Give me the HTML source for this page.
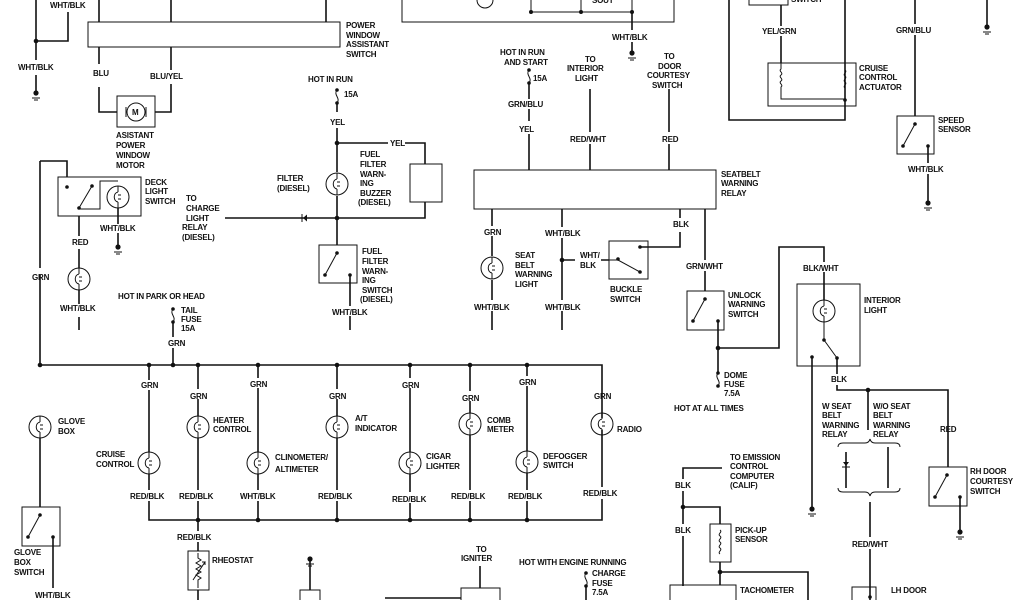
<!DOCTYPE html>
<html><head><meta charset="utf-8"><style>
body{margin:0;background:#fff}
svg{display:block}
text{font-family:"Liberation Sans",sans-serif;font-size:8px;font-weight:bold;fill:#111;letter-spacing:-0.2px}
.l{stroke:#111;stroke-width:1.6;fill:none}
.t{stroke:#111;stroke-width:1;fill:none}
.d{fill:#111}
</style></head><body>
<svg width="1024" height="600" viewBox="0 0 1024 600" xmlns="http://www.w3.org/2000/svg">
<defs>
<g id="lamp"><circle r="11" class="t" stroke-width="1.3"/><path d="M0,-11 V-5 M0,11 V5 M0,-5 C-5,-4 -5,4 0,5 M0,-2 H3 M0,2 H3" class="t"/></g>
<g id="gnd"><circle r="2.6" class="d"/><path d="M-4,5 H4 M-2,7 H2" class="t" stroke-width="0.7"/></g>
<g id="fuse"><circle cx="0" cy="0" r="1.8" class="d"/><path d="M0,0 C-4,5 4,8 0,13" class="t"/><circle cx="0" cy="13" r="1.8" class="d"/></g>
</defs>

<!-- top-left -->
<path class="l" d="M36,0 V60 M36,75 V93 M36,41 H68 V12"/>
<circle cx="36" cy="41" r="2.3" class="d"/>
<use href="#gnd" x="36" y="93"/>
<text x="50" y="8">WHT/BLK</text>
<text x="18" y="70">WHT/BLK</text>

<rect x="88" y="22" width="252" height="25" class="t" stroke-width="1.3"/>
<path class="l" d="M99,0 V22 M171,0 V22 M326,0 V22"/>
<text x="346" y="28">POWER</text><text x="346" y="38">WINDOW</text><text x="346" y="47">ASSISTANT</text><text x="346" y="57">SWITCH</text>
<path class="l" d="M99,47 V64 M99,87 V112 H117 M171,47 V70 M171,84 V112 H155"/>
<text x="93" y="76">BLU</text><text x="150" y="79">BLU/YEL</text>
<rect x="117" y="96" width="38" height="31" class="t" stroke-width="1.2"/>
<circle cx="136" cy="112" r="9" class="t"/><text x="132" y="115">M</text>
<path class="t" d="M126,107 V117 M146,107 V117"/>
<text x="116" y="138">ASISTANT</text><text x="116" y="148">POWER</text><text x="116" y="158">WINDOW</text><text x="116" y="168">MOTOR</text>

<!-- deck light -->
<path class="l" d="M40,275 V365 M40,161 H67 V177 M40,161 V268"/>
<text x="32" y="280">GRN</text>
<rect x="58" y="177" width="83" height="39" class="t" stroke-width="1.2"/>
<circle cx="67" cy="187" r="1.8" class="d"/><circle cx="79" cy="208" r="1.8" class="d"/><circle cx="92" cy="186" r="1.8" class="d"/>
<path class="t" d="M79,208 L92,186 M79,209 H100 V181 H118"/>
<use href="#lamp" x="118" y="197"/>
<text x="145" y="185">DECK</text><text x="145" y="194">LIGHT</text><text x="145" y="204">SWITCH</text>
<path class="l" d="M79,216 V236 M79,249 V268 M79,290 V304 M79,317 V330"/>
<text x="72" y="245">RED</text>
<use href="#lamp" x="79" y="279"/>
<text x="60" y="311">WHT/BLK</text>
<path class="l" d="M118,208 V224 M118,233 V246"/>
<use href="#gnd" x="118" y="247"/>
<text x="100" y="231">WHT/BLK</text>
<text x="186" y="201">TO</text><text x="186" y="211">CHARGE</text><text x="186" y="221">LIGHT</text><text x="182" y="230">RELAY</text><text x="182" y="240">(DIESEL)</text>

<!-- fuel filter -->
<path class="l" d="M225,218 H425 V202 M425,164 V143 H405 M388,143 H337 M337,128 V172 M337,196 V245"/>
<path class="d" d="M303,218 l4,-3.5 v7z"/><path class="t" d="M302,214 V222"/>
<circle cx="337" cy="218" r="2.3" class="d"/><circle cx="337" cy="143" r="2.3" class="d"/>
<text x="308" y="82">HOT IN RUN</text>
<use href="#fuse" x="337" y="90"/><path class="l" d="M337,103 V112"/>
<text x="344" y="97">15A</text><text x="330" y="125">YEL</text><text x="390" y="146">YEL</text>
<rect x="410" y="164" width="32" height="38" class="t" stroke-width="1.2"/>
<use href="#lamp" x="337" y="184"/>
<text x="277" y="181">FILTER</text><text x="277" y="191">(DIESEL)</text>
<text x="360" y="157">FUEL</text><text x="360" y="167">FILTER</text><text x="360" y="177">WARN-</text><text x="360" y="186">ING</text><text x="360" y="196">BUZZER</text><text x="358" y="205">(DIESEL)</text>
<rect x="319" y="245" width="38" height="38" class="t" stroke-width="1.2"/>
<circle cx="337" cy="253" r="1.8" class="d"/><circle cx="325" cy="275" r="1.8" class="d"/><circle cx="350" cy="275" r="1.8" class="d"/>
<path class="t" d="M337,253 L325,275"/>
<text x="362" y="254">FUEL</text><text x="362" y="264">FILTER</text><text x="362" y="274">WARN-</text><text x="362" y="283">ING</text><text x="362" y="293">SWITCH</text><text x="360" y="302">(DIESEL)</text>
<path class="l" d="M350,275 V306 M350,316 V330"/>
<text x="332" y="315">WHT/BLK</text>

<!-- top middle -->
<path class="t" stroke-width="1.3" d="M402,0 V22 H674 V0"/>
<path class="t" d="M531,0 V12 H632 V0 M581,0 V12"/>
<circle cx="531" cy="12" r="2" class="d"/><circle cx="581" cy="12" r="2" class="d"/><circle cx="632" cy="12" r="2" class="d"/>
<circle cx="485" cy="0" r="8" class="t"/>
<text x="592" y="3">SOUT</text>
<path class="l" d="M632,12 V30 M632,42 V52"/>
<use href="#gnd" x="632" y="53"/>
<text x="612" y="40">WHT/BLK</text>

<text x="500" y="55">HOT IN RUN</text><text x="504" y="65">AND START</text>
<use href="#fuse" x="529" y="70"/><text x="533" y="81">15A</text>
<path class="l" d="M529,83 V99 M529,109 V121 M529,134 V170"/>
<text x="508" y="107">GRN/BLU</text><text x="519" y="132">YEL</text>
<text x="585" y="62">TO</text><text x="567" y="71">INTERIOR</text><text x="575" y="81">LIGHT</text>
<path class="l" d="M590,89 V132 M590,144 V170"/>
<text x="570" y="142">RED/WHT</text>
<text x="664" y="59">TO</text><text x="658" y="69">DOOR</text><text x="647" y="78">COURTESY</text><text x="652" y="88">SWITCH</text>
<path class="l" d="M669,89 V132 M669,144 V170"/>
<text x="662" y="142">RED</text>
<rect x="474" y="170" width="242" height="39" class="t" stroke-width="1.3"/>
<text x="721" y="177">SEATBELT</text><text x="721" y="186">WARNING</text><text x="721" y="196">RELAY</text>

<path class="l" d="M492,209 V226 M492,236 V256 M492,280 V300 M492,311 V330"/>
<text x="484" y="235">GRN</text>
<use href="#lamp" x="492" y="268"/>
<text x="474" y="310">WHT/BLK</text>
<text x="515" y="258">SEAT</text><text x="515" y="268">BELT</text><text x="515" y="277">WARNING</text><text x="515" y="287">LIGHT</text>
<path class="l" d="M562,209 V227 M562,238 V300 M562,311 V330 M562,260 H575 M601,260 H609"/>
<circle cx="562" cy="260" r="2.3" class="d"/>
<text x="545" y="236">WHT/BLK</text><text x="545" y="310">WHT/BLK</text>
<text x="580" y="258">WHT/</text><text x="580" y="268">BLK</text>
<rect x="609" y="241" width="39" height="38" class="t" stroke-width="1.2"/>
<circle cx="640" cy="247" r="1.8" class="d"/><circle cx="618" cy="259" r="1.8" class="d"/><circle cx="640" cy="272" r="1.8" class="d"/>
<path class="t" d="M609,260 H618 L640,272"/>
<text x="610" y="292">BUCKLE</text><text x="610" y="302">SWITCH</text>
<path class="l" d="M680,209 V218 M680,232 V247 H640"/>
<text x="673" y="227">BLK</text>
<path class="l" d="M705,209 V260 M705,271 V291"/>
<text x="686" y="269">GRN/WHT</text>
<rect x="687" y="291" width="37" height="39" class="t" stroke-width="1.2"/>
<circle cx="705" cy="299" r="1.8" class="d"/><circle cx="693" cy="321" r="1.8" class="d"/><circle cx="718" cy="321" r="1.8" class="d"/>
<path class="t" d="M705,299 L693,321"/>
<text x="728" y="298">UNLOCK</text><text x="728" y="307">WARNING</text><text x="728" y="317">SWITCH</text>
<path class="l" d="M718,321 V372 M718,348 H779 V247 H824 V262 M824,272 V300"/>
<circle cx="718" cy="348" r="2.3" class="d"/>
<use href="#fuse" x="718" y="373"/>
<text x="724" y="378">DOME</text><text x="724" y="387">FUSE</text><text x="724" y="396">7.5A</text>
<text x="674" y="411">HOT AT ALL TIMES</text>

<!-- top right -->
<path class="l" d="M729,0 V120 H845 V0"/>
<rect x="749" y="-2" width="39" height="7" class="t"/>
<text x="791" y="2">SWITCH</text>
<path class="l" d="M781,5 V26 M781,36 V63"/>
<text x="762" y="34">YEL/GRN</text>
<rect x="768" y="63" width="88" height="43" class="t" stroke-width="1.2"/>
<path class="t" d="M781,63 V69 c-3,2 3,4 0,6 c-3,2 3,4 0,6 c-3,2 3,4 0,6 V99 H845 V88 c-3,-2 3,-4 0,-6 c-3,-2 3,-4 0,-6 c-3,-2 3,-4 0,-6 V63"/>
<circle cx="845" cy="100" r="1.8" class="d"/>
<text x="859" y="71">CRUISE</text><text x="859" y="80">CONTROL</text><text x="859" y="90">ACTUATOR</text>
<path class="l" d="M915,0 V24 M915,35 V116"/>
<text x="896" y="33">GRN/BLU</text>
<rect x="897" y="116" width="37" height="38" class="t" stroke-width="1.2"/>
<circle cx="915" cy="124" r="1.8" class="d"/><circle cx="903" cy="146" r="1.8" class="d"/><circle cx="928" cy="146" r="1.8" class="d"/>
<path class="t" d="M915,124 L903,146"/>
<text x="938" y="123">SPEED</text><text x="938" y="132">SENSOR</text>
<path class="l" d="M928,146 V163 M928,174 V203"/>
<use href="#gnd" x="928" y="203"/>
<text x="908" y="172">WHT/BLK</text>
<path class="l" d="M987,0 V26"/><use href="#gnd" x="987" y="27"/>

<!-- interior light -->
<text x="803" y="271">BLK/WHT</text>
<rect x="797" y="284" width="63" height="82" class="t" stroke-width="1.2"/>
<use href="#lamp" x="824" y="311"/>
<path class="t" d="M824,322 V340 L837,358"/>
<circle cx="824" cy="340" r="1.8" class="d"/><circle cx="837" cy="358" r="1.8" class="d"/><circle cx="812" cy="357" r="1.8" class="d"/>
<text x="864" y="303">INTERIOR</text><text x="864" y="313">LIGHT</text>
<path class="l" d="M812,357 V508 M837,358 V374 M837,385 V390 H948 V467 M868,390 V430"/>
<use href="#gnd" x="812" y="509"/>
<circle cx="868" cy="390" r="2.3" class="d"/>
<text x="831" y="382">BLK</text>
<text x="822" y="409">W SEAT</text><text x="822" y="418">BELT</text><text x="822" y="428">WARNING</text><text x="822" y="437">RELAY</text>
<text x="873" y="409">W/O SEAT</text><text x="873" y="418">BELT</text><text x="873" y="428">WARNING</text><text x="873" y="437">RELAY</text>
<text x="940" y="432">RED</text>
<path class="t" d="M838,447 q0,-4 5,-4 h22 q4,0 5,-4 q1,4 5,4 h20 q5,0 5,4 M838,488 q0,4 5,4 h22 q4,0 5,4 q1,-4 5,-4 h20 q5,0 5,-4"/>
<path class="l" d="M846,452 V488 M888,447 V488 M870,502 V537 M870,549 V600"/>
<path class="d" d="M846,466 l-3,-4 h6z"/><path class="t" d="M842,467 H850"/>
<text x="852" y="547">RED/WHT</text>
<rect x="852" y="587" width="24" height="20" class="t"/>
<circle cx="870" cy="597" r="1.8" class="d"/>
<text x="891" y="593">LH DOOR</text>
<rect x="929" y="467" width="38" height="39" class="t" stroke-width="1.2"/>
<circle cx="947" cy="475" r="1.8" class="d"/><circle cx="935" cy="497" r="1.8" class="d"/><circle cx="960" cy="497" r="1.8" class="d"/>
<path class="t" d="M947,475 L935,497"/>
<text x="970" y="474">RH DOOR</text><text x="970" y="484">COURTESY</text><text x="970" y="494">SWITCH</text>
<path class="l" d="M960,497 V531"/><use href="#gnd" x="960" y="532"/>

<!-- emission / tach -->
<text x="730" y="460">TO EMISSION</text><text x="730" y="469">CONTROL</text><text x="730" y="479">COMPUTER</text><text x="730" y="488">(CALIF)</text>
<path class="l" d="M722,468 H683 V479 M683,491 V524 M683,536 V586 M683,507 H720 V524 M720,562 V572 H808 V600 M720,572 V585"/>
<circle cx="683" cy="507" r="2.3" class="d"/><circle cx="720" cy="572" r="2.3" class="d"/>
<text x="675" y="488">BLK</text><text x="675" y="533">BLK</text>
<rect x="710" y="524" width="21" height="38" class="t" stroke-width="1.2"/>
<path class="t" d="M720,530 c3,2 -3,4 0,6 c3,2 -3,4 0,6 c3,2 -3,4 0,6 c3,2 -3,4 0,6"/>
<text x="735" y="533">PICK-UP</text><text x="735" y="542">SENSOR</text>
<rect x="670" y="585" width="66" height="20" class="t" stroke-width="1.2"/>
<text x="740" y="593">TACHOMETER</text>

<!-- bus -->
<path class="l" d="M40,365 H602 V418 M602,430 V487 M602,499 V520 H149 V501 M149,490 V474 M149,452 V390 M149,380 V365"/>
<circle cx="40" cy="365" r="2.3" class="d"/>
<g class="d">
<circle cx="149" cy="365" r="2.3"/><circle cx="173" cy="365" r="2.3"/><circle cx="198" cy="365" r="2.3"/><circle cx="258" cy="365" r="2.3"/><circle cx="337" cy="365" r="2.3"/><circle cx="410" cy="365" r="2.3"/><circle cx="470" cy="365" r="2.3"/><circle cx="527" cy="365" r="2.3"/>
<circle cx="198" cy="520" r="2.3"/><circle cx="258" cy="520" r="2.3"/><circle cx="337" cy="520" r="2.3"/><circle cx="410" cy="520" r="2.3"/><circle cx="470" cy="520" r="2.3"/><circle cx="527" cy="520" r="2.3"/>
</g>
<text x="118" y="299">HOT IN PARK OR HEAD</text>
<use href="#fuse" x="173" y="309"/>
<text x="181" y="313">TAIL</text><text x="181" y="322">FUSE</text><text x="181" y="331">15A</text>
<path class="l" d="M173,322 V337 M173,348 V365"/>
<text x="168" y="346">GRN</text>

<path class="l" d="M198,365 V389 M198,399 V416 M198,438 V490 M198,501 V520"/>
<path class="l" d="M258,365 V378 M258,388 V452 M258,474 V490 M258,501 V520"/>
<path class="l" d="M337,365 V389 M337,399 V416 M337,438 V490 M337,501 V520"/>
<path class="l" d="M410,365 V378 M410,388 V452 M410,474 V492 M410,503 V520"/>
<path class="l" d="M470,365 V391 M470,401 V413 M470,435 V490 M470,501 V520"/>
<path class="l" d="M527,365 V376 M527,386 V451 M527,473 V490 M527,501 V520"/>

<use href="#lamp" x="40" y="427"/><use href="#lamp" x="149" y="463"/><use href="#lamp" x="198" y="427"/><use href="#lamp" x="258" y="463"/>
<use href="#lamp" x="337" y="427"/><use href="#lamp" x="410" y="463"/><use href="#lamp" x="470" y="424"/><use href="#lamp" x="527" y="462"/><use href="#lamp" x="602" y="424"/>

<text x="141" y="388">GRN</text><text x="190" y="399">GRN</text><text x="250" y="387">GRN</text><text x="329" y="399">GRN</text>
<text x="402" y="388">GRN</text><text x="462" y="401">GRN</text><text x="519" y="385">GRN</text><text x="594" y="399">GRN</text>
<text x="130" y="499">RED/BLK</text><text x="179" y="499">RED/BLK</text><text x="240" y="499">WHT/BLK</text><text x="318" y="499">RED/BLK</text>
<text x="392" y="502">RED/BLK</text><text x="451" y="499">RED/BLK</text><text x="508" y="499">RED/BLK</text><text x="583" y="496">RED/BLK</text>

<text x="58" y="424">GLOVE</text><text x="58" y="434">BOX</text>
<text x="96" y="457">CRUISE</text><text x="96" y="467">CONTROL</text>
<text x="213" y="423">HEATER</text><text x="213" y="432">CONTROL</text>
<text x="275" y="460">CLINOMETER/</text><text x="275" y="472">ALTIMETER</text>
<text x="355" y="421">A/T</text><text x="355" y="431">INDICATOR</text>
<text x="426" y="459">CIGAR</text><text x="426" y="469">LIGHTER</text>
<text x="487" y="423">COMB</text><text x="487" y="432">METER</text>
<text x="543" y="459">DEFOGGER</text><text x="543" y="468">SWITCH</text>
<text x="617" y="432">RADIO</text>

<!-- bottom left -->
<path class="l" d="M40,438 V507"/>
<rect x="22" y="507" width="38" height="39" class="t" stroke-width="1.2"/>
<circle cx="40" cy="515" r="1.8" class="d"/><circle cx="28" cy="537" r="1.8" class="d"/><circle cx="53" cy="537" r="1.8" class="d"/>
<path class="t" d="M40,515 L28,537"/>
<text x="14" y="555">GLOVE</text><text x="14" y="565">BOX</text><text x="14" y="575">SWITCH</text>
<path class="l" d="M53,537 V588"/>
<text x="35" y="598">WHT/BLK</text>
<path class="l" d="M198,520 V531 M198,542 V551 M198,590 V600"/>
<text x="177" y="540">RED/BLK</text>
<rect x="188" y="551" width="21" height="39" class="t" stroke-width="1.2"/>
<path class="t" d="M198,553 V558 l3,2 -5,3 5,3 -5,3 5,3 -5,3 5,3 -3,2 V588 M193,580 L205,562 l-3,0 M205,562 l0,3"/>
<text x="212" y="563">RHEOSTAT</text>
<use href="#gnd" x="310" y="559"/>
<path class="l" d="M310,559 V590"/>
<rect x="300" y="590" width="20" height="14" class="t"/>
<text x="476" y="552">TO</text><text x="461" y="561">IGNITER</text>
<path class="l" d="M480,566 V588 M385,598 H461"/>
<rect x="461" y="588" width="39" height="16" class="t" stroke-width="1.2"/>
<text x="519" y="565">HOT WITH ENGINE RUNNING</text>
<use href="#fuse" x="586" y="573"/>
<text x="592" y="576">CHARGE</text><text x="592" y="586">FUSE</text><text x="592" y="595">7.5A</text>
<path class="l" d="M586,586 V600"/>
</svg>
</body></html>
